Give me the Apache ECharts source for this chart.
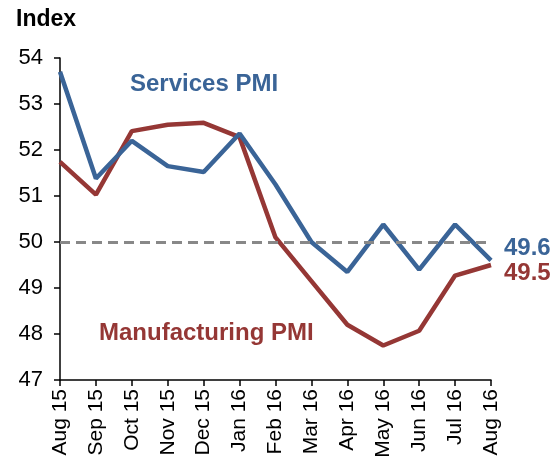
<!DOCTYPE html>
<html><head><meta charset="utf-8">
<script src="https://cdn.jsdelivr.net/npm/echarts@6/dist/echarts.min.js"></script>
<style>html,body{margin:0;padding:0;background:#fff}#c{width:551px;height:468px}</style>
</head><body><div id="c"></div>
<script>
const categories = ["Aug 15","Sep 15","Oct 15","Nov 15","Dec 15","Jan 16","Feb 16","Mar 16","Apr 16","May 16","Jun 16","Jul 16","Aug 16"];
const services = [53.7, 51.38, 52.2, 51.65, 51.52, 52.36, 51.25, 50.0, 49.35, 50.38, 49.4, 50.38, 49.6];
const manufacturing = [51.74, 51.03, 52.41, 52.55, 52.59, 52.28, 50.1, 49.15, 48.2, 47.75, 48.07, 49.27, 49.5];
const threshold = 50;
const yTicks = [47, 48, 49, 50, 51, 52, 53, 54];

const BLUE = '#3A6497', RED = '#953735';
const FONT = 'Liberation Sans, Arial, sans-serif';
const chart = echarts.init(document.getElementById('c'));
chart.setOption({
  animation: false,
  textStyle: {fontFamily: FONT},
  grid: {left: 60, right: 60, top: 58, bottom: 88, containLabel: false},
  xAxis: {
    type: 'category', data: categories, boundaryGap: false,
    axisLine: {lineStyle: {color: '#000', width: 1.5}},
    axisTick: {show: true, length: 6, lineStyle: {color: '#000', width: 1.5}},
    axisLabel: {rotate: 90, color: '#000', fontSize: 21, fontFamily: FONT, margin: 9, interval: 0},
    splitLine: {show: false}
  },
  yAxis: {
    type: 'value', min: yTicks[0], max: yTicks[yTicks.length-1], interval: 1,
    axisLine: {show: true, lineStyle: {color: '#000', width: 1.5}},
    axisTick: {show: true, length: 6, lineStyle: {color: '#000', width: 1.5}},
    axisLabel: {color: '#000', fontSize: 22, fontFamily: FONT, margin: 17},
    splitLine: {show: false}
  },
  series: [
    {
      name: 'Services PMI', type: 'line', data: services, symbol: 'none',
      lineStyle: {color: BLUE, width: 4.5}, z: 3,
      endLabel: {show: true, formatter: '{c}', color: BLUE, fontSize: 24, fontWeight: 'bold', fontFamily: FONT, offset: [5, -12]},
      markLine: {
        silent: true, symbol: 'none', label: {show: false},
        lineStyle: {color: '#888', type: [10, 6], width: 3},
        data: [{yAxis: threshold}]
      }
    },
    {
      name: 'Manufacturing PMI', type: 'line', data: manufacturing, symbol: 'none',
      lineStyle: {color: RED, width: 4.5}, z: 2,
      endLabel: {show: true, formatter: '{c}', color: RED, fontSize: 24, fontWeight: 'bold', fontFamily: FONT, offset: [5, 8]}
    }
  ],
  graphic: [
    {type: 'text', left: 16, top: 8, style: {text: 'Index', fill: '#000', font: 'bold 23px ' + FONT}},
    {type: 'text', left: 130, top: 72, style: {text: 'Services PMI', fill: BLUE, font: 'bold 24px ' + FONT}},
    {type: 'text', left: 99, top: 321, style: {text: 'Manufacturing PMI', fill: RED, font: 'bold 24px ' + FONT}}
  ]
});
</script></body></html>
